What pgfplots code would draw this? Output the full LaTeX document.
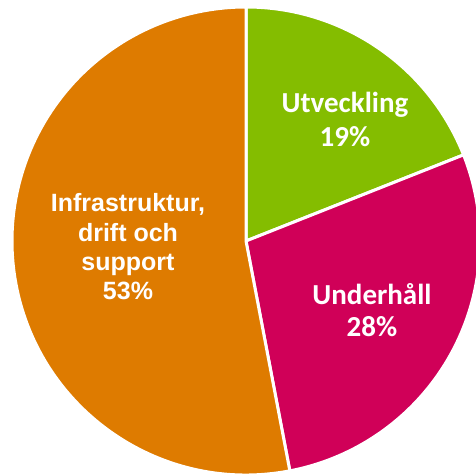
\documentclass[border=0pt]{standalone}
\usepackage{pgfplots}
\pgfplotsset{compat=1.18}
\usepackage{fontspec}
\setmainfont{Liberation Sans}
\newfontfamily\carlito{Carlito}
\definecolor{cgreen}{RGB}{132,189,0}
\definecolor{cmag}{RGB}{208,0,88}
\definecolor{corange}{RGB}{222,123,0}
% shares in percent
\def\pUtv{19}
\def\pUnd{28}
\def\pInf{53}
\pgfmathsetmacro\aA{90}
\pgfmathsetmacro\aB{\aA-3.6*\pUtv}
\pgfmathsetmacro\aC{\aB-3.6*\pUnd}
\pgfmathsetmacro\aD{\aC-3.6*\pInf}
\def\R{234}
\def\cx{246}
\def\cy{235}
\begin{document}
\begin{tikzpicture}
\useasboundingbox (0,0) rectangle (476pt,476pt);
\begin{axis}[
  x=1pt, y=1pt, xmin=0, xmax=476, ymin=0, ymax=476,
  scale only axis, hide axis, clip=true,
  anchor=south west, at={(0,0)},
]
\filldraw[fill=cgreen, draw=white, line width=3pt, line join=miter]
  (axis cs:\cx,\cy) -- ++(\aA:\R pt) arc[start angle=\aA, end angle=\aB, radius=\R pt] -- cycle;
\filldraw[fill=cmag, draw=white, line width=3pt, line join=miter]
  (axis cs:\cx,\cy) -- ++(\aB:\R pt) arc[start angle=\aB, end angle=\aC, radius=\R pt] -- cycle;
\filldraw[fill=corange, draw=white, line width=3pt, line join=miter]
  (axis cs:\cx,\cy) -- ++(\aC:\R pt) arc[start angle=\aC, end angle=\aD, radius=\R pt] -- cycle;

\node[anchor=base, text=white, font=\carlito\bfseries\fontsize{29}{32}\selectfont] at (axis cs:345,363) {Utveckling};
\node[anchor=base, text=white, font=\carlito\bfseries\fontsize{29}{32}\selectfont] at (axis cs:345,329) {19\%};
\node[anchor=base, text=white, font=\carlito\bfseries\fontsize{29}{32}\selectfont] at (axis cs:372,171) {Underhåll};
\node[anchor=base, text=white, font=\carlito\bfseries\fontsize{29}{32}\selectfont] at (axis cs:372,139) {28\%};

\node[anchor=base, text=white, font=\bfseries\fontsize{25}{30}\selectfont] at (axis cs:128,264) {Infrastruktur,};
\node[anchor=base, text=white, font=\bfseries\fontsize{25}{30}\selectfont] at (axis cs:128,234) {drift och};
\node[anchor=base, text=white, font=\bfseries\fontsize{25}{30}\selectfont] at (axis cs:128,205) {support};
\node[anchor=base, text=white, font=\bfseries\fontsize{25}{30}\selectfont] at (axis cs:128,176) {53\%};
\end{axis}
\end{tikzpicture}
\end{document}
